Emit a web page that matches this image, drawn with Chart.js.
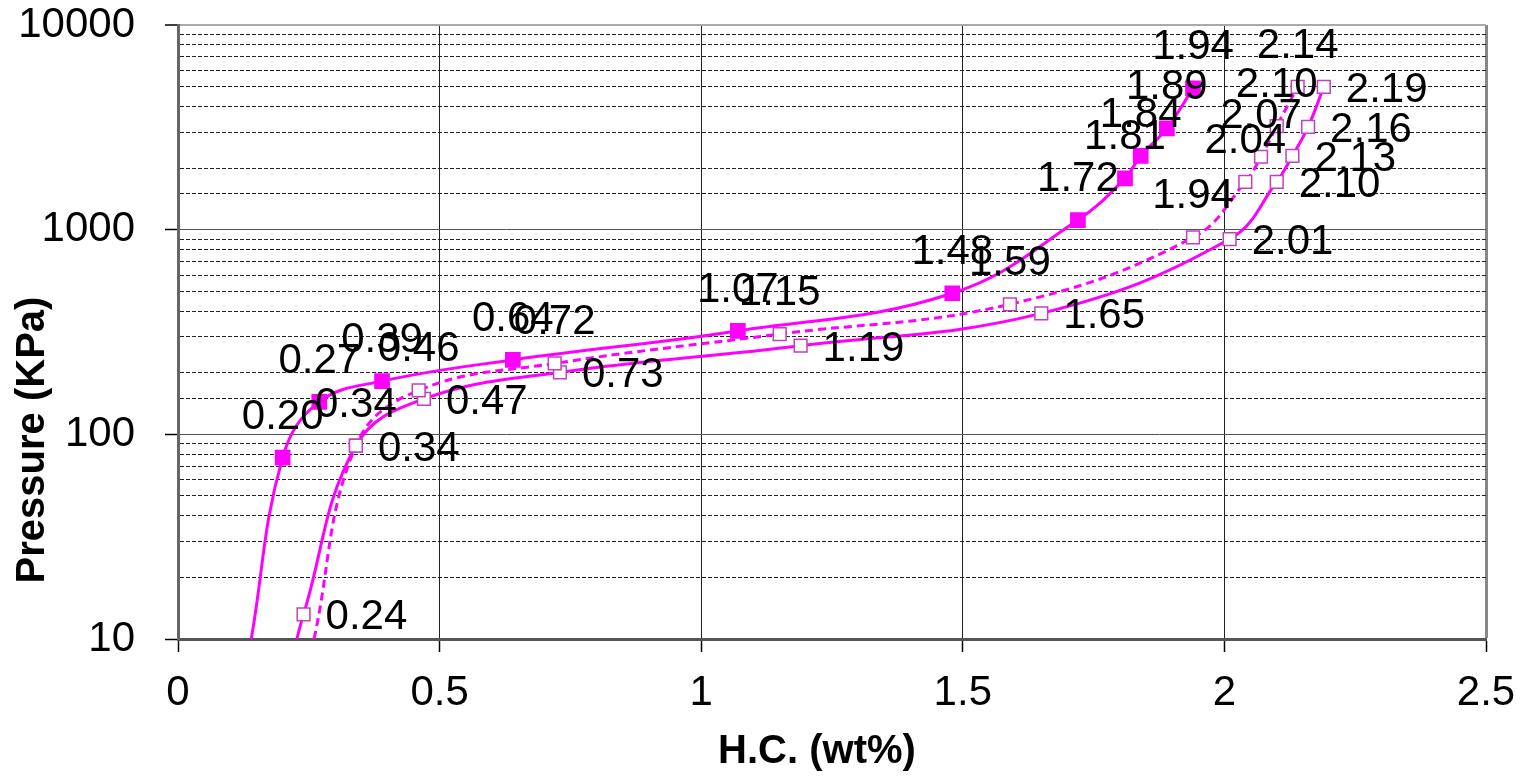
<!DOCTYPE html>
<html>
<head>
<meta charset="utf-8">
<title>Pressure vs H.C.</title>
<script src="https://cdn.jsdelivr.net/npm/chart.js@4.4.1/dist/chart.umd.min.js"></script>
<style>
  html, body { margin: 0; padding: 0; background: #fff; }
  canvas { display: block; }
</style>
</head>
<body>
<canvas id="hcChart" width="1524" height="776"></canvas>
<script>
// series A - filled squares, solid line
const hcA = [0.20, 0.27, 0.39, 0.64, 1.07, 1.48, 1.72, 1.81, 1.84, 1.89, 1.94];
const pA  = [77, 144, 182, 231, 320, 489, 1114, 1782, 2291, 3127, 4898];

// series B - open squares, dashed line
const hcB = [0.34, 0.46, 0.72, 1.15, 1.59, 1.94, 2.04, 2.07, 2.10, 2.14];
const pB  = [88, 164, 222, 309, 432, 916, 1714, 2271, 3206, 4988];

// series C - open squares, solid line
const hcC = [0.24, 0.34, 0.47, 0.73, 1.19, 1.65, 2.01, 2.10, 2.13, 2.16, 2.19];
const pC  = [13.2, 88, 149, 201, 271, 390, 900, 1714, 2296, 3180, 4988];

// where each curve runs out through the bottom axis (no marker there)
const tailA = [0.14, 10];
const tailB = [0.26, 10];
const tailC = [0.227, 10];

const xTicks = [0, 0.5, 1, 1.5, 2, 2.5];
const yMajor = [10, 100, 1000, 10000];

const magenta = "#FF00FF";
const openPink = "#C040C0";
const fontFamily = "'Liberation Sans', Arial, sans-serif";
const tickFont = { family: fontFamily, size: 42 };

function toPoints(xs, ys, tail) {
  const pts = [{ x: tail[0], y: tail[1], tail: true }];
  xs.forEach((x, i) => pts.push({ x: x, y: ys[i] }));
  return pts;
}

function isDecade(v) {
  return yMajor.indexOf(v) >= 0;
}

// value labels + axis titles (both titles sit off the plot centre in the original)
const pointLabels = {
  id: "pointLabels",
  afterDatasetsDraw(chart) {
    const ctx = chart.ctx;
    ctx.save();
    ctx.font = "42px " + fontFamily;
    ctx.fillStyle = "#000";
    ctx.textBaseline = "alphabetic";
    chart.data.datasets.forEach((ds, i) => {
      const meta = chart.getDatasetMeta(i);
      meta.data.forEach((pt, j) => {
        const raw = ds.data[j];
        if (raw.tail) return;
        const txt = raw.x.toFixed(2);
        if (ds.labelPos === "right") {
          ctx.textAlign = "left";
          ctx.fillText(txt, pt.x + 22, pt.y + 15);
        } else {
          ctx.textAlign = "center";
          ctx.fillText(txt, pt.x, pt.y - 29);
        }
      });
    });

    const area = chart.chartArea;
    ctx.font = "bold 40px " + fontFamily;
    ctx.textAlign = "center";
    ctx.textBaseline = "middle";
    ctx.fillText("H.C. (wt%)", (area.left + area.right) / 2 - 15, chart.height - 24);

    ctx.translate(33, area.bottom - 199);
    ctx.rotate(-Math.PI / 2);
    ctx.fillText("Pressure (KPa)", 0, 0);
    ctx.restore();
  }
};

const ctx = document.getElementById("hcChart").getContext("2d");

new Chart(ctx, {
  type: "scatter",
  data: {
    datasets: [
      {
        label: "A",
        data: toPoints(hcA, pA, tailA),
        showLine: true,
        borderColor: magenta,
        borderWidth: 3,
        tension: 0.4,
        pointStyle: "rect",
        pointRadius: c => (c.raw && c.raw.tail ? 0 : 9),
        pointBackgroundColor: magenta,
        pointBorderColor: magenta,
        labelPos: "above"
      },
      {
        label: "B",
        data: toPoints(hcB, pB, tailB),
        showLine: true,
        borderColor: magenta,
        borderWidth: 3,
        borderDash: [8, 5],
        tension: 0.4,
        pointStyle: "rect",
        pointRadius: c => (c.raw && c.raw.tail ? 0 : 9),
        pointBackgroundColor: "#fff",
        pointBorderColor: openPink,
        pointBorderWidth: 1.5,
        labelPos: "above"
      },
      {
        label: "C",
        data: toPoints(hcC, pC, tailC),
        showLine: true,
        borderColor: magenta,
        borderWidth: 3,
        tension: 0.4,
        pointStyle: "rect",
        pointRadius: c => (c.raw && c.raw.tail ? 0 : 9),
        pointBackgroundColor: "#fff",
        pointBorderColor: openPink,
        pointBorderWidth: 1.5,
        labelPos: "right"
      }
    ]
  },
  options: {
    responsive: false,
    animation: false,
    layout: { padding: { top: 25, right: 38, left: 0, bottom: 0 } },
    plugins: {
      legend: { display: false },
      tooltip: { enabled: false }
    },
    scales: {
      x: {
        type: "linear",
        min: 0,
        max: 2.5,
        afterBuildTicks: axis => { axis.ticks = xTicks.map(v => ({ value: v })); },
        afterFit: axis => {
          axis.height = 137;
          axis.paddingLeft = 0;
          axis.paddingRight = 0;
        },
        ticks: {
          font: tickFont,
          color: "#000",
          padding: 16,
          callback: v => String(v)
        },
        grid: {
          color: c => (c.tick && c.tick.value === 2.5 ? "#888" : "#222"),
          lineWidth: c => (c.tick && c.tick.value === 2.5 ? 3 : 1),
          tickLength: 13,
          tickColor: "#000",
          tickWidth: 1.5
        },
        border: { color: "#555", width: 3 }
      },
      y: {
        type: "logarithmic",
        min: 10,
        max: 10000,
        afterFit: axis => {
          axis.width = 178;
          axis.paddingTop = 0;
          axis.paddingBottom = 0;
        },
        ticks: {
          autoSkip: false,
          font: tickFont,
          color: "#000",
          padding: 30,
          callback: v => (isDecade(v) ? String(v) : "")
        },
        grid: {
          color: c => {
            if (!c.tick) return "#222";
            if (c.tick.value === 10000) return "#aaa";
            return isDecade(c.tick.value) ? "#555" : "#222";
          },
          lineWidth: c => (c.tick && c.tick.value === 10000 ? 2 : 1),
          tickLength: 13,
          tickWidth: 1.5,
          tickColor: c => (c.tick && isDecade(c.tick.value) ? "#000" : "rgba(0,0,0,0)")
        },
        border: {
          color: "#666",
          width: 3,
          dash: c => (c.tick && !isDecade(c.tick.value) ? [4, 2] : [])
        }
      }
    }
  },
  plugins: [pointLabels]
});
</script>
</body>
</html>
